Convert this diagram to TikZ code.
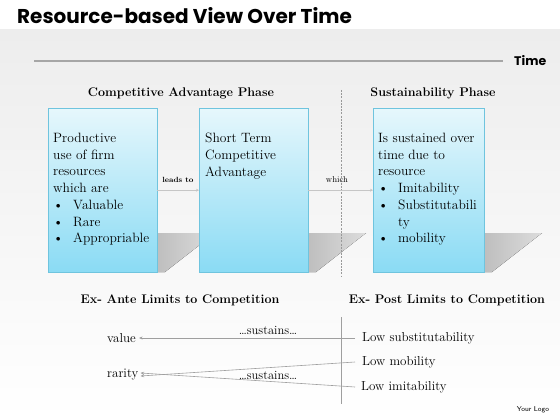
\documentclass[tikz,border=0pt]{standalone}
\usepackage{fontspec}
\newfontfamily\headfont{Poppins}
\usetikzlibrary{arrows.meta, positioning}
\tikzstyle{phase_box}=[rectangle,
        anchor=north west,
        minimum width=109pt,
        minimum height=164pt,
        draw=BoxLine,
        top color=BoxTop,
        middle color=BoxMid,
        bottom color=BoxBottom, ]
\tikzstyle{box_text}=[anchor=north west, align=left, inner sep=0pt,
        font=\fontsize{13.5}{16.7}\selectfont]
\tikzstyle{phase_head}=[inner sep=0pt, font=\bfseries\fontsize{12.5}{15}\selectfont]
\tikzstyle{limit_text}=[anchor=west, inner sep=0pt, font=\fontsize{13}{15}\selectfont]
\tikzstyle{small_label}=[inner sep=0pt, font=\fontsize{7.5}{9}\selectfont]
\tikzstyle{link_arrow}=[-{Stealth[length=3pt,width=3pt]}, draw=gray!45, line width=0.5pt]
\tikzstyle{limit_arrow}=[-{Stealth[length=3.5pt,width=3pt]}, draw=gray!75, line width=0.6pt]
\definecolor{BoxTop}{HTML}{E6F7FC}
\definecolor{BoxMid}{HTML}{A8E5F8}
\definecolor{BoxBottom}{HTML}{8ADBF4}
\definecolor{BoxLine}{HTML}{6FC4DE}
\definecolor{BackTop}{HTML}{EDEDED}
\definecolor{ShadowGray}{HTML}{BEBEBE}
\newcommand{\blt}{\makebox[20pt][l]{\textbullet}}

\begin{document}
\begin{tikzpicture}[x=1pt, y=-1pt]
    \useasboundingbox (0,0) rectangle (560,420);
    \fill[top color=BackTop, bottom color=white] (0,30) rectangle (560,420);

    \node at (17,16) (title) [anchor=west, inner sep=0pt, font=\headfont\bfseries\fontsize{20}{22}\selectfont] {Resource-based View Over Time};

    % time axis
    \coordinate (time_start) at (34,61);
    \node at (514,61) (time) [anchor=west, inner sep=0pt, font=\headfont\bfseries\fontsize{12.5}{14}\selectfont] {Time};
    \draw[gray!70, line width=1.6pt] (time_start) -- (time.west -| 503,61);

    \node at (181,93) (ca_phase) [phase_head] {Competitive Advantage Phase};
    \node at (433,93) (sus_phase) [phase_head] {Sustainability Phase};

    % shadows behind the boxes
    \foreach \bx in {157,308,484} {
        \fill[left color=ShadowGray, right color=ShadowGray!35!BackTop]
            (\bx,233) -- (\bx+58,233) -- (\bx+8,272) -- (\bx,272) -- cycle;
    }

    \coordinate (cut_top) at (341,90);
    \coordinate (cut_bot) at (341,276);
    \draw[gray!80, dashed, line width=0.5pt, dash pattern=on 2pt off 1.2pt] (cut_top) -- (cut_bot);

    \node at (48,108) (box1) [phase_box] {};
    \node at (199,108) (box2) [phase_box] {};
    \node at (373,108) (box3) [phase_box, minimum width=111pt] {};

    \node at (53,133) (txt1) [box_text] {Productive\\use of firm\\resources\\which are\\\blt Valuable\\\blt Rare\\\blt Appropriable};
    \node at (205,133) (txt2) [box_text] {Short Term\\Competitive\\Advantage};
    \node at (378,133) (txt3) [box_text] {Is sustained over\\time due to\\resource\\\blt Imitability\\\blt Substitutabili\\\hspace{20pt}ty\\\blt mobility};

    \draw[link_arrow] (box1.east) -- (box2.west);
    \draw[link_arrow] (box2.east) -- (box3.west);
    \node at (178,180) (leads) [small_label] {\textbf{leads to}};
    \node at (337,180) (which) [small_label, font=\fontsize{8.5}{10}\selectfont] {which};

    \node at (180,300) (ante) [phase_head] {Ex- Ante Limits to Competition};
    \node at (447,300) (post) [phase_head] {Ex- Post Limits to Competition};

    \coordinate (limit_top) at (341,317);
    \coordinate (limit_bot) at (341,404);
    \draw[gray!75, line width=0.7pt] (limit_top) -- (limit_bot);

    \node at (107,338) (value) [limit_text] {value};
    \node at (107,375) (rarity) [limit_text] {rarity};
    \node at (362,338) (lsub) [limit_text] {Low substitutability};
    \node at (362,362) (lmob) [limit_text] {Low mobility};
    \node at (361,387) (limi) [limit_text] {Low imitability};

    \draw[limit_arrow] ([xshift=-7pt]lsub.west) -- ([xshift=3pt]value.east);
    \draw[limit_arrow] ([xshift=-7pt]lmob.west) -- ([xshift=2pt,yshift=-1pt]rarity.east);
    \draw[limit_arrow] ([xshift=-6pt]limi.west) -- ([xshift=2pt,yshift=2pt]rarity.east);
    \node at (268,330) (sus1) [inner sep=0pt, font=\fontsize{12.5}{14}\selectfont] {\ldots sustains\ldots};
    \node at (268,375) (sus2) [inner sep=0pt, font=\fontsize{12.5}{14}\selectfont] {\ldots sustains\ldots};

    \node at (533,410) (logo) [inner sep=0pt, font=\sffamily\fontsize{7}{8}\selectfont] {Your Logo};
\end{tikzpicture}
\end{document}
